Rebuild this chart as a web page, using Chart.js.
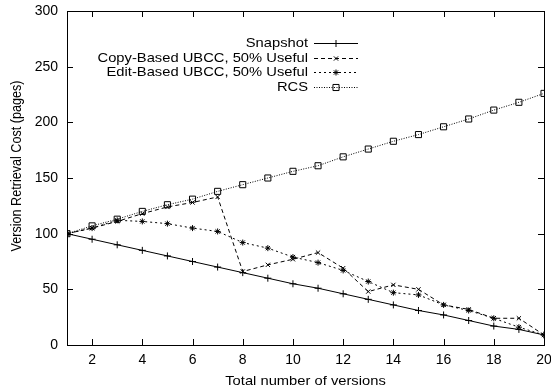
<!DOCTYPE html>
<html>
<head>
<meta charset="utf-8">
<script src="https://cdn.jsdelivr.net/npm/chart.js@4/dist/chart.umd.min.js"></script>
<style>
  html, body { margin: 0; padding: 0; background: #fff; }
  #wrap { width: 551px; height: 392px; }
</style>
</head>
<body>
<div id="wrap"><canvas id="c" width="551" height="392"></canvas></div>
<script>
// Version counts on the x axis
const versions = [1, 2, 3, 4, 5, 6, 7, 8, 9, 10, 11, 12, 13, 14, 15, 16, 17, 18, 19, 20];
const xTickValues = [2, 4, 6, 8, 10, 12, 14, 16, 18, 20];
const yTickValues = [0, 50, 100, 150, 200, 250, 300];

// Retrieval cost (pages) for each scheme
const snapshot   = [100, 95, 90, 85, 80, 75, 70, 65, 60, 55, 51, 46, 41, 36, 31, 27, 22, 17, 14, 9];
const copyBased  = [100, 105, 111, 118, 124, 128, 133, 66, 72, 77, 83, 69, 48, 54, 50, 36, 32, 24, 24, 9];
const editBased  = [100, 105, 112, 111, 109, 105, 102, 92, 87, 79, 74, 67, 57, 47, 45, 36, 31, 24, 16, 9];
const rcs        = [100, 107, 113, 120, 126, 131, 138, 144, 150, 156, 161, 169, 176, 183, 189, 196, 203, 211, 218, 226];

const seriesNames = ['Snapshot', 'Copy-Based UBCC, 50% Useful', 'Edit-Based UBCC, 50% Useful', 'RCS'];
const xTitle = 'Total number of versions';
const yTitle = 'Version Retrieval Cost (pages)';

const FONT = "'Liberation Sans', Arial, Helvetica, sans-serif";
const TEXT_SIZE = 12.6;     // glyph height of the key and titles
const TEXT_WIDEN = 1.17;    // those texts are set slightly wide

const toPoints = arr => versions.map((v, i) => ({ x: v, y: arr[i] }));

function series(label, values, style, radius, dash) {
  return {
    label,
    data: toPoints(values),
    borderColor: '#000',
    backgroundColor: 'rgba(0,0,0,0)',
    borderWidth: 1,
    borderDash: dash,
    pointStyle: style,
    pointRadius: radius,
    pointBorderColor: '#000',
    pointBackgroundColor: 'rgba(0,0,0,0)',
    pointBorderWidth: 1,
    tension: 0,
    fill: false
  };
}

// draws text widened along its own baseline
function wideText(ctx, text, x, y, align, rotation) {
  ctx.save();
  ctx.translate(x, y);
  if (rotation) ctx.rotate(rotation);
  if (rotation) ctx.scale(1, TEXT_WIDEN); else ctx.scale(TEXT_WIDEN, 1);
  ctx.font = TEXT_SIZE + 'px ' + FONT;
  ctx.textAlign = align;
  ctx.textBaseline = 'middle';
  ctx.fillStyle = '#000';
  ctx.fillText(text, 0, 0);
  ctx.restore();
}

// gnuplot-like frame: box, inward ticks on all sides, key and axis titles
const framePlugin = {
  id: 'frame',
  afterDraw(chart) {
    const { ctx, chartArea: { left, right, top, bottom }, scales: { x, y } } = chart;
    ctx.save();
    ctx.strokeStyle = '#000';
    ctx.lineWidth = 1;
    ctx.setLineDash([]);
    ctx.strokeRect(Math.round(left) + 0.5, Math.round(top) + 0.5,
                   Math.round(right - left), Math.round(bottom - top));

    const tl = 6;
    ctx.beginPath();
    xTickValues.forEach(v => {
      const px = Math.round(x.getPixelForValue(v)) + 0.5;
      ctx.moveTo(px, bottom); ctx.lineTo(px, bottom - tl);
      ctx.moveTo(px, top); ctx.lineTo(px, top + tl);
    });
    yTickValues.forEach(v => {
      const py = Math.round(y.getPixelForValue(v)) + 0.5;
      ctx.moveTo(left, py); ctx.lineTo(left + tl, py);
      ctx.moveTo(right, py); ctx.lineTo(right - tl, py);
    });
    ctx.stroke();

    // key
    const textRight = right - 236;
    const lineStart = right - 230;
    const lineEnd = right - 186;
    chart.data.datasets.forEach((ds, i) => {
      const ry = Math.round(top + 32 + i * 14.6) + 0.5;
      wideText(ctx, ds.label, textRight, ry, 'right', 0);
      ctx.save();
      ctx.strokeStyle = '#000';
      ctx.setLineDash(ds.borderDash || []);
      ctx.lineWidth = 1;
      ctx.beginPath();
      ctx.moveTo(lineStart, ry);
      ctx.lineTo(lineEnd, ry);
      ctx.stroke();
      ctx.setLineDash([]);
      ctx.fillStyle = 'rgba(0,0,0,0)';
      Chart.helpers.drawPoint(ctx, {
        pointStyle: ds.pointStyle, radius: ds.pointRadius, rotation: 0, borderWidth: 1
      }, (lineStart + lineEnd) / 2, ry);
      ctx.restore();
    });

    // axis titles
    wideText(ctx, xTitle, (left + right) / 2, 382, 'center', 0);
    wideText(ctx, yTitle, 17, (top + bottom) / 2 - 12, 'center', -Math.PI / 2);
    ctx.restore();
  }
};

new Chart(document.getElementById('c'), {
  type: 'line',
  data: {
    datasets: [
      series(seriesNames[0], snapshot, 'cross', 3.5, []),
      series(seriesNames[1], copyBased, 'crossRot', 3, [4, 3]),
      series(seriesNames[2], editBased, 'star', 3, [2, 3]),
      series(seriesNames[3], rcs, 'rect', 4.3, [1, 1.5])
    ]
  },
  options: {
    responsive: false,
    animation: false,
    events: [],
    layout: { padding: { top: 11, right: 7, left: 0, bottom: 0 } },
    plugins: { legend: { display: false }, tooltip: { enabled: false } },
    scales: {
      x: {
        type: 'linear',
        min: 1,
        max: 20,
        afterBuildTicks: s => { s.ticks = xTickValues.map(v => ({ value: v })); },
        afterFit: s => { s.height = 47; s.paddingLeft = 0; s.paddingRight = 0; },
        grid: { display: false, drawTicks: false },
        border: { display: false },
        ticks: { padding: 7, color: '#000', font: { family: FONT, size: 14 }, maxRotation: 0, autoSkip: false }
      },
      y: {
        type: 'linear',
        min: 0,
        max: 300,
        afterBuildTicks: s => { s.ticks = yTickValues.map(v => ({ value: v })); },
        afterFit: s => { s.width = 67; s.paddingTop = 0; s.paddingBottom = 0; },
        grid: { display: false, drawTicks: false },
        border: { display: false },
        ticks: { padding: 9, color: '#000', font: { family: FONT, size: 14 } }
      }
    }
  },
  plugins: [framePlugin]
});
</script>
</body>
</html>
